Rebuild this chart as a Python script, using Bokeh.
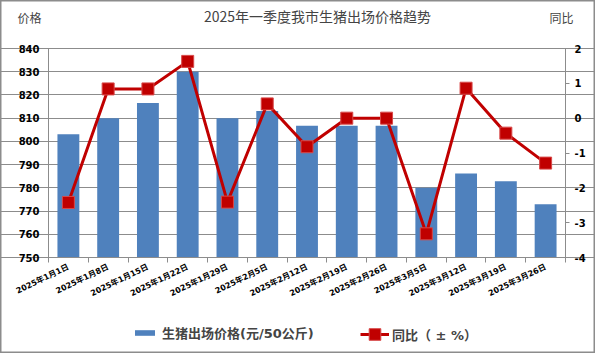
from bokeh.plotting import figure
from bokeh.models import (Range1d, LinearAxis, FixedTicker, Label, Legend, LegendItem,
                          ColumnDataSource)
from bokeh.embed import file_html
from bokeh.resources import INLINE

# ---- data ----
dates = ["2025年1月1日", "2025年1月8日", "2025年1月15日", "2025年1月22日", "2025年1月29日",
         "2025年2月5日", "2025年2月12日", "2025年2月19日", "2025年2月26日", "2025年3月5日",
         "2025年3月12日", "2025年3月19日", "2025年3月26日"]
price = [803.1, 810.0, 816.5, 830.0, 810.0, 813.1, 806.7, 806.7, 806.7, 780.0, 786.2, 782.8, 772.9]
yoy = [-2.42, 0.84, 0.84, 1.63, -2.41, 0.41, -0.82, 0.0, 0.0, -3.32, 0.86, -0.43, -1.29]
left_ticks = list(range(750, 841, 10))
right_ticks = list(range(-4, 3))
title_text = "2025年一季度我市生猪出场价格趋势"
left_title = "价格"
right_title = "同比"
bar_label = "生猪出场价格(元/50公斤)"
line_label = "同比（ ± %）"

BLUE = "#4F81BD"
RED = "#C00000"
GRAY = "#8C8C8C"
FONT = "DejaVu Sans, 'Noto Sans CJK SC'"
CJK = "'Noto Sans CJK SC', sans-serif"

# ---- layout geometry (pixels of the 595x353 canvas) ----
W, H = 595, 353
PL, PR, PT, PB = 48, 565, 48, 257          # plot-area edges
n = len(dates)
y0, y1 = left_ticks[0], left_ticks[-1]
r0, r1 = right_ticks[0], right_ticks[-1]
xs_per_px = n / (PR - PL)
ys_per_px = (y1 - y0) / (PB - PT)
rs_per_px = (r1 - r0) / (PB - PT)
x_range = Range1d(-PL * xs_per_px, n + (W - PR) * xs_per_px)
y_range = Range1d(y0 - (H - PB) * ys_per_px, y1 + PT * ys_per_px)
r_range = Range1d(r0 - (H - PB) * rs_per_px, r1 + PT * rs_per_px)

xs = [i + 0.5 for i in range(n)]
src = ColumnDataSource(dict(x=xs, price=price, yoy=yoy, date=dates))

p = figure(width=W, height=H, output_backend="svg", toolbar_location=None,
           x_range=x_range, y_range=y_range, min_border=0,
           x_axis_location=None, y_axis_location=None)
p.extra_y_ranges = {"yoy": r_range}
p.outline_line_color = GRAY
p.outline_line_width = 2

def style_axis(ax, size):
    ax.major_label_text_font = FONT
    ax.major_label_text_font_size = size
    ax.major_label_text_font_style = "bold"
    ax.major_label_text_color = "black"
    ax.axis_line_color = GRAY
    ax.major_tick_line_color = GRAY
    ax.minor_tick_line_color = GRAY
    ax.major_tick_in = 0
    ax.minor_tick_in = 0
    ax.minor_tick_out = 0

xa = LinearAxis(ticker=FixedTicker(ticks=xs, minor_ticks=list(range(n + 1))),
                fixed_location=y0, bounds=(0, n))
style_axis(xa, "8px")
xa.major_label_overrides = {x: d for x, d in zip(xs, dates)}
xa.major_label_orientation = 0.45
xa.major_tick_out = 0
xa.minor_tick_out = 5
xa.major_label_standoff = 4
p.add_layout(xa, "below")

ya = LinearAxis(ticker=FixedTicker(ticks=left_ticks), fixed_location=0, bounds=(y0, y1))
style_axis(ya, "10px")
ya.major_tick_out = 4
p.add_layout(ya, "left")

ra = LinearAxis(y_range_name="yoy", ticker=FixedTicker(ticks=right_ticks),
                fixed_location=n, bounds=(r0, r1))
style_axis(ra, "10px")
ra.major_label_overrides = {t: str(t) for t in right_ticks}
ra.major_tick_out = 4
p.add_layout(ra, "right")

p.xgrid.grid_line_color = None
p.ygrid.ticker = FixedTicker(ticks=left_ticks)
p.ygrid.bounds = (0, n)
p.ygrid.grid_line_color = GRAY
p.ygrid.grid_line_width = 1

bars = p.vbar(x="x", top="price", bottom=y0, width=0.55, source=src,
              fill_color=BLUE, line_color=None)
ln = p.line(x="x", y="yoy", source=src, y_range_name="yoy", line_color=RED, line_width=3)
sc = p.scatter(x="x", y="yoy", source=src, y_range_name="yoy", marker="square", size=12,
               fill_color=RED, line_color="#D84848", line_width=1)

common = dict(orientation="horizontal", padding=0, margin=0, border_line_color=None,
              background_fill_alpha=0, label_text_font=FONT, label_text_font_size="13px",
              label_text_font_style="bold")
leg_bar = Legend(items=[LegendItem(label=bar_label, renderers=[bars])],
                 location=(132, H - 342), glyph_width=25, glyph_height=7, label_standoff=5,
                 **common)
leg_line = Legend(items=[LegendItem(label=line_label, renderers=[ln, sc])],
                  location=(360, H - 349), glyph_width=29, glyph_height=30, label_standoff=3,
                  **common)
p.add_layout(leg_bar)
p.add_layout(leg_line)

p.add_layout(Label(x=317, y=H - 15, x_units="screen", y_units="screen", text=title_text,
                   text_font=CJK, text_font_size="14px", text_align="center", text_baseline="middle"))
p.add_layout(Label(x=29, y=H - 17, x_units="screen", y_units="screen", text=left_title,
                   text_font=CJK, text_font_size="12px", text_align="center", text_baseline="middle"))
p.add_layout(Label(x=561, y=H - 17, x_units="screen", y_units="screen", text=right_title,
                   text_font=CJK, text_font_size="12px", text_align="center", text_baseline="middle"))

open("out.html", "w").write(file_html(p, INLINE))
